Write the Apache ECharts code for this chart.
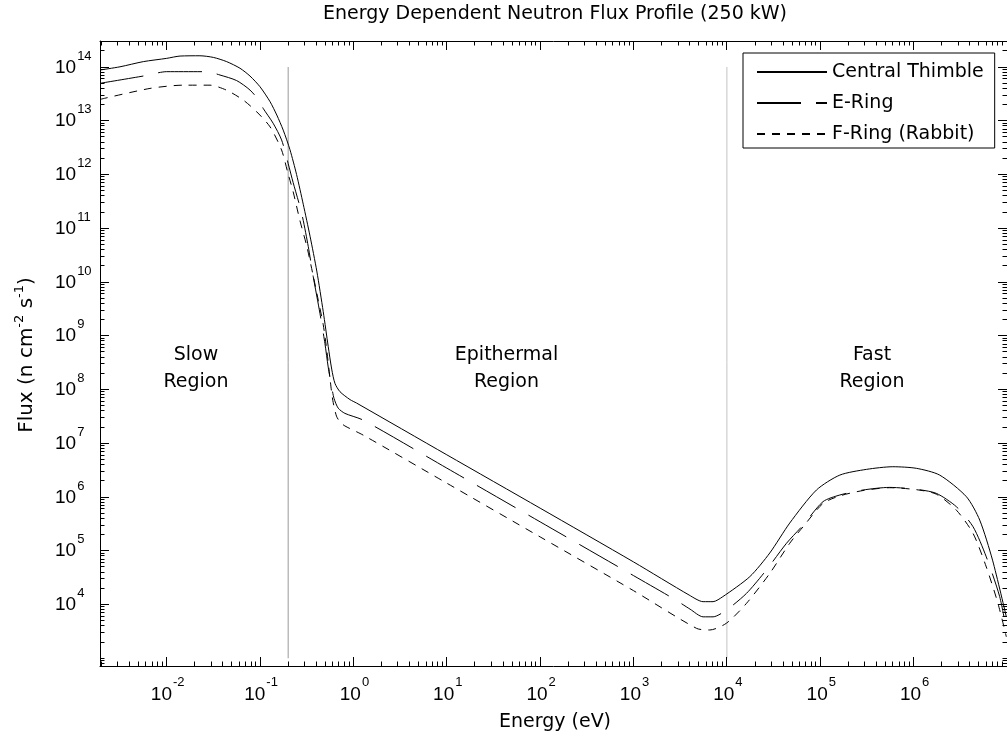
<!DOCTYPE html>
<html>
<head>
<meta charset="utf-8">
<script src="https://cdn.jsdelivr.net/npm/echarts@6.0.0/dist/echarts.min.js"></script>
<style>
html,body{margin:0;padding:0;background:#fff;}
#chart{width:1007px;height:738px;}
</style>
</head>
<body>
<div id="chart"></div>
<script>
// ---------------- data ----------------
const seriesNames = ['Central Thimble', 'E-Ring', 'F-Ring (Rabbit)'];

const ctEnergy = [0.00193, 0.00316, 0.00561, 0.01, 0.0139, 0.0227, 0.0316, 0.0439, 0.0609, 0.078, 0.0998, 0.128, 0.151, 0.177, 0.209, 0.246, 0.29, 0.343, 0.405, 0.475, 0.537, 0.585, 0.634, 0.718, 0.918, 1.08, 10, 100, 1000, 3940, 5560, 7110, 9040, 1.76e4, 2.88e4, 4.71e4, 9.1e4, 1.62e5, 3.13e5, 5.98e5, 1.07e6, 1.9e6, 3.68e6, 5.1e6, 7.0e6, 9.84e6];
const ctFlux   = [8.8e13, 1.01e14, 1.26e14, 1.45e14, 1.6e14, 1.62e14, 1.51e14, 1.26e14, 9.5e13, 6.8e13, 4.3e13, 2.26e13, 1.28e13, 6.7e12, 2.9e12, 1.0e12, 2.8e11, 7.1e10, 1.6e10, 2.8e9, 6.3e8, 2.4e8, 1.3e8, 9.1e7, 6.5e7, 5.6e7, 6.1e6, 6.2e5, 6.2e4, 1.5e4, 1.13e4, 1.13e4, 1.4e4, 3.3e4, 9.1e4, 3.28e5, 1.35e6, 2.56e6, 3.27e6, 3.66e6, 3.42e6, 2.56e6, 1.01e6, 3.73e5, 6.7e4, 5.9e3];

const eEnergy = [0.00193, 0.00561, 0.01, 0.0268, 0.0372, 0.0561, 0.078, 0.0998, 0.108, 0.138, 0.170, 0.2, 0.226, 0.279, 0.328, 0.371, 0.438, 0.495, 0.537, 0.585, 0.62, 0.687, 0.81, 1.27, 10, 100, 1000, 2750, 4030, 5560, 7110, 9900, 1.62e4, 2.65e4, 4.35e4, 6.55e4, 1.07e5, 1.62e5, 2.87e5, 5.5e5, 1.07e6, 1.75e6, 2.87e6, 4.33e6, 6.0e6, 8.35e6, 9.84e6];
const eFlux   = [4.98e13, 6.8e13, 8.2e13, 8.2e13, 7.1e13, 5.6e13, 3.73e13, 2.26e13, 1.7e13, 9.0e12, 4.4e12, 1.6e12, 7.1e11, 1.9e11, 4.6e10, 1.26e10, 2.6e9, 7.2e8, 2.6e8, 1.12e8, 6.8e7, 4.5e7, 3.6e7, 2.7e7, 3.45e6, 3.45e5, 3.45e4, 1.25e4, 8.2e3, 5.9e3, 5.9e3, 7.9e3, 1.61e4, 4.4e4, 1.38e5, 3.0e5, 8.2e5, 1.09e6, 1.35e6, 1.51e6, 1.39e6, 1.17e6, 6.6e5, 2.8e5, 7.7e4, 1.4e4, 3.4e3];

const fEnergy = [0.00193, 0.00662, 0.0151, 0.0291, 0.0439, 0.066, 0.092, 0.128, 0.170, 0.199, 0.226, 0.267, 0.315, 0.371, 0.42, 0.475, 0.521, 0.566, 0.601, 0.658, 0.718, 0.81, 1.27, 10, 100, 1000, 4730, 6560, 9900, 1.62e4, 2.88e4, 4.71e4, 6.55e4, 1.07e5, 1.62e5, 2.87e5, 5.5e5, 1.07e6, 1.75e6, 2.87e6, 4.33e6, 6.0e6, 8.0e6, 9.84e6];
const fFlux   = [2.5e13, 4.0e13, 4.6e13, 4.6e13, 3.7e13, 2.43e13, 1.47e13, 7.7e12, 2.86e12, 1.05e12, 4.8e11, 1.4e11, 4.8e10, 1.3e10, 4.6e9, 1.6e9, 5.0e8, 1.4e8, 6.3e7, 3.2e7, 2.5e7, 2.1e7, 1.42e7, 1.81e6, 1.81e5, 1.81e4, 3.6e3, 3.36e3, 4.5e3, 1.05e4, 3.8e4, 1.38e5, 2.8e5, 7.6e5, 1.05e6, 1.32e6, 1.49e6, 1.37e6, 1.13e6, 5.7e5, 2.1e5, 5.0e4, 1.05e4, 2.5e3];

const boundaryEnergy = [0.2, 1e4];          // region dividers (eV)
const boundaryFluxRange = [1e3, 1e14];      // vertical extent of the dividers
const xTickExponents = [-2, -1, 0, 1, 2, 3, 4, 5, 6];
const yTickExponents = [4, 5, 6, 7, 8, 9, 10, 11, 12, 13, 14];
const regionLabels = [['Slow', 'Region'], ['Epithermal', 'Region'], ['Fast', 'Region']];

const titleText = 'Energy Dependent Neutron Flux Profile (250 kW)';
const xAxisTitle = 'Energy (eV)';

// axis extents
const X_MIN = 0.00193, X_MAX = 1e7, Y_MIN = 718, Y_MAX = 3.05e14;

// ---------------- helpers ----------------
const LIB = '"Liberation Sans", Arial, sans-serif';
const DJV = '"DejaVu Sans", sans-serif';
const mctx = document.createElement('canvas').getContext('2d');
function tw(t, fs, fam) { mctx.font = fs + 'px ' + fam; return mctx.measureText(t).width; }
function zip(a, b) { return a.map((v, i) => [v, b[i]]); }

// tick list (major decades + minor 2..9)
const tickData = [];
for (let n = Math.floor(Math.log10(X_MIN)); n <= Math.ceil(Math.log10(X_MAX)); n++) {
  for (let k = 1; k <= 9; k++) {
    const v = k * Math.pow(10, n);
    if (v < X_MIN * 1.0001 || v > X_MAX * 0.9999) continue;
    const major = k === 1 && xTickExponents.indexOf(n) >= 0;
    tickData.push([v, Y_MIN, major ? 0 : 1, n]);
  }
}
for (let n = Math.floor(Math.log10(Y_MIN)); n <= Math.ceil(Math.log10(Y_MAX)); n++) {
  for (let k = 1; k <= 9; k++) {
    const v = k * Math.pow(10, n);
    if (v < Y_MIN * 1.0001 || v > Y_MAX * 0.9999) continue;
    const major = k === 1 && yTickExponents.indexOf(n) >= 0;
    tickData.push([X_MIN, v, major ? 2 : 3, n]);
  }
}

const BASE_FS = 19, SUP_FS = 13;
function renderTicks(params, api) {
  const cs = params.coordSys;
  const kind = api.value(2);
  const major = (kind === 0 || kind === 2);
  const len = major ? 9 : 4.5;
  const st = { stroke: '#000', lineWidth: 1, fill: null };
  const top = cs.y, bottom = cs.y + cs.height, left = cs.x, right = cs.x + cs.width;
  const ch = [];
  const exp = String(api.value(3));
  const w10 = tw('10', BASE_FS, LIB);
  const ws = tw(exp, SUP_FS, LIB);
  if (kind < 2) {
    const p = api.coord([api.value(0), Y_MIN])[0];
    const x = Math.floor(p) + 0.5;
    ch.push({ type: 'line', shape: { x1: x, y1: bottom, x2: x, y2: bottom - len }, style: st });
    ch.push({ type: 'line', shape: { x1: x, y1: top, x2: x, y2: top + len }, style: st });
    if (major) {
      const total = w10 + 1 + ws;
      const sx = p + 1 - total / 2;
      const baseBL = bottom + 35;
      ch.push({ type: 'text', x: sx, y: baseBL - 0.3465 * BASE_FS,
        style: { text: '10', fill: '#000', fontSize: BASE_FS, fontFamily: LIB, align: 'left', verticalAlign: 'middle' } });
      ch.push({ type: 'text', x: sx + w10 + 1, y: baseBL - 14 - 0.3465 * SUP_FS,
        style: { text: exp, fill: '#000', fontSize: SUP_FS, fontFamily: LIB, align: 'left', verticalAlign: 'middle' } });
    }
  } else {
    const p = api.coord([X_MIN, api.value(1)])[1];
    const y = Math.floor(p) + 0.5;
    ch.push({ type: 'line', shape: { x1: left, y1: y, x2: left + len, y2: y }, style: st });
    ch.push({ type: 'line', shape: { x1: right, y1: y, x2: right - len, y2: y }, style: st });
    if (major) {
      const sx = 55;
      const baseBL = p + 7;
      ch.push({ type: 'text', x: sx, y: baseBL - 0.3465 * BASE_FS,
        style: { text: '10', fill: '#000', fontSize: BASE_FS, fontFamily: LIB, align: 'left', verticalAlign: 'middle' } });
      ch.push({ type: 'text', x: sx + w10 + 1, y: baseBL - 13.5 - 0.3465 * SUP_FS,
        style: { text: exp, fill: '#000', fontSize: SUP_FS, fontFamily: LIB, align: 'left', verticalAlign: 'middle' } });
    }
  }
  return { type: 'group', children: ch };
}

// y axis title pieces (rotated)
const YT_FS = 20, YT_SUP = 13;
const yTitleParts = [['Flux (n cm', false], ['-2', true], [' s', false], ['-1', true], [')', false]];
let yTitleLen = 0;
const yTitleChildren = [];
yTitleParts.forEach(([t, sup]) => {
  const fs = sup ? YT_SUP : YT_FS;
  yTitleChildren.push({ type: 'text', x: yTitleLen, y: (sup ? -9 : 0) - 0.346 * fs,
    style: { text: t, fill: '#000', font: fs + 'px ' + DJV, textAlign: 'left', textVerticalAlign: 'middle' } });
  yTitleLen += tw(t, fs, DJV);
});

const regionX = [196, 506.5, 872];
const graphics = [
  { type: 'text', x: 555, y: 14.4, style: { text: titleText, fill: '#000', font: '19px ' + DJV, textAlign: 'center', textVerticalAlign: 'middle' } },
  { type: 'text', x: 555, y: 721.7, style: { text: xAxisTitle, fill: '#000', font: '19px ' + DJV, textAlign: 'center', textVerticalAlign: 'middle' } },
  { type: 'group', x: 33.5, y: 355 + yTitleLen / 2, rotation: Math.PI / 2, children: yTitleChildren }
];
regionLabels.forEach((lines, i) => {
  lines.forEach((t, j) => {
    graphics.push({ type: 'text', x: regionX[i], y: 355.3 + j * 26.7,
      style: { text: t, fill: '#000', font: '19px ' + DJV, textAlign: 'center', textVerticalAlign: 'middle' } });
  });
});

const chart = echarts.init(document.getElementById('chart'), null, { renderer: 'canvas' });
const axisCommon = {
  type: 'log', logBase: 10,
  axisLine: { show: true, lineStyle: { color: '#000', width: 1 } },
  axisTick: { show: false }, axisLabel: { show: false },
  splitLine: { show: false }, minorTick: { show: false }, minorSplitLine: { show: false }
};
const SMOOTH = 0.25;
chart.setOption({
  animation: false,
  backgroundColor: '#fff',
  grid: { left: 100, right: 0, top: 41, bottom: 72, containLabel: false, outerBoundsMode: 'none' },
  xAxis: [
    Object.assign({}, axisCommon, { min: X_MIN, max: X_MAX, position: 'bottom' }),
    Object.assign({}, axisCommon, { min: X_MIN, max: X_MAX, position: 'top' })
  ],
  yAxis: [Object.assign({}, axisCommon, { min: Y_MIN, max: Y_MAX, position: 'left' })],
  legend: {
    data: seriesNames,
    orient: 'vertical', left: 743, top: 53,
    itemWidth: 70, itemHeight: 1, itemGap: 11,
    padding: [9, 11, 4, 13],
    backgroundColor: '#fff', borderColor: '#000', borderWidth: 1, borderRadius: 0,
    selectedMode: false,
    itemStyle: { color: 'rgba(0,0,0,0)', borderWidth: 0, borderColor: 'rgba(0,0,0,0)' },
    textStyle: { fontFamily: 'DejaVu Sans', fontSize: 19, color: '#000', lineHeight: 20 }
  },
  graphic: graphics,
  series: [
    { type: 'line', name: 'divider-low', data: boundaryFluxRange.map(f => [boundaryEnergy[0], f]), symbol: 'none', silent: true, z: 1,
      lineStyle: { color: '#9a9a9a', width: 1 } },
    { type: 'line', name: 'divider-high', data: boundaryFluxRange.map(f => [boundaryEnergy[1], f]), symbol: 'none', silent: true, z: 1,
      lineStyle: { color: '#c4c4c4', width: 1 } },
    { type: 'line', name: seriesNames[0], data: zip(ctEnergy, ctFlux), symbol: 'none', smooth: SMOOTH, z: 3,
      itemStyle: { color: '#000' }, lineStyle: { color: '#000', width: 1, type: 'solid' } },
    { type: 'line', name: seriesNames[1], data: zip(eEnergy, eFlux), symbol: 'none', smooth: SMOOTH, z: 3,
      itemStyle: { color: '#000' }, lineStyle: { color: '#000', width: 1, type: [44, 15] } },
    { type: 'line', name: seriesNames[2], data: zip(fEnergy, fFlux), symbol: 'none', smooth: SMOOTH, z: 3,
      itemStyle: { color: '#000' }, lineStyle: { color: '#000', width: 1, type: [8, 7] } },
    { type: 'custom', name: 'ticks', data: tickData, renderItem: renderTicks, clip: false, silent: true, z: 5,
      encode: { x: 0, y: 1 } }
  ]
});
</script>
</body>
</html>
